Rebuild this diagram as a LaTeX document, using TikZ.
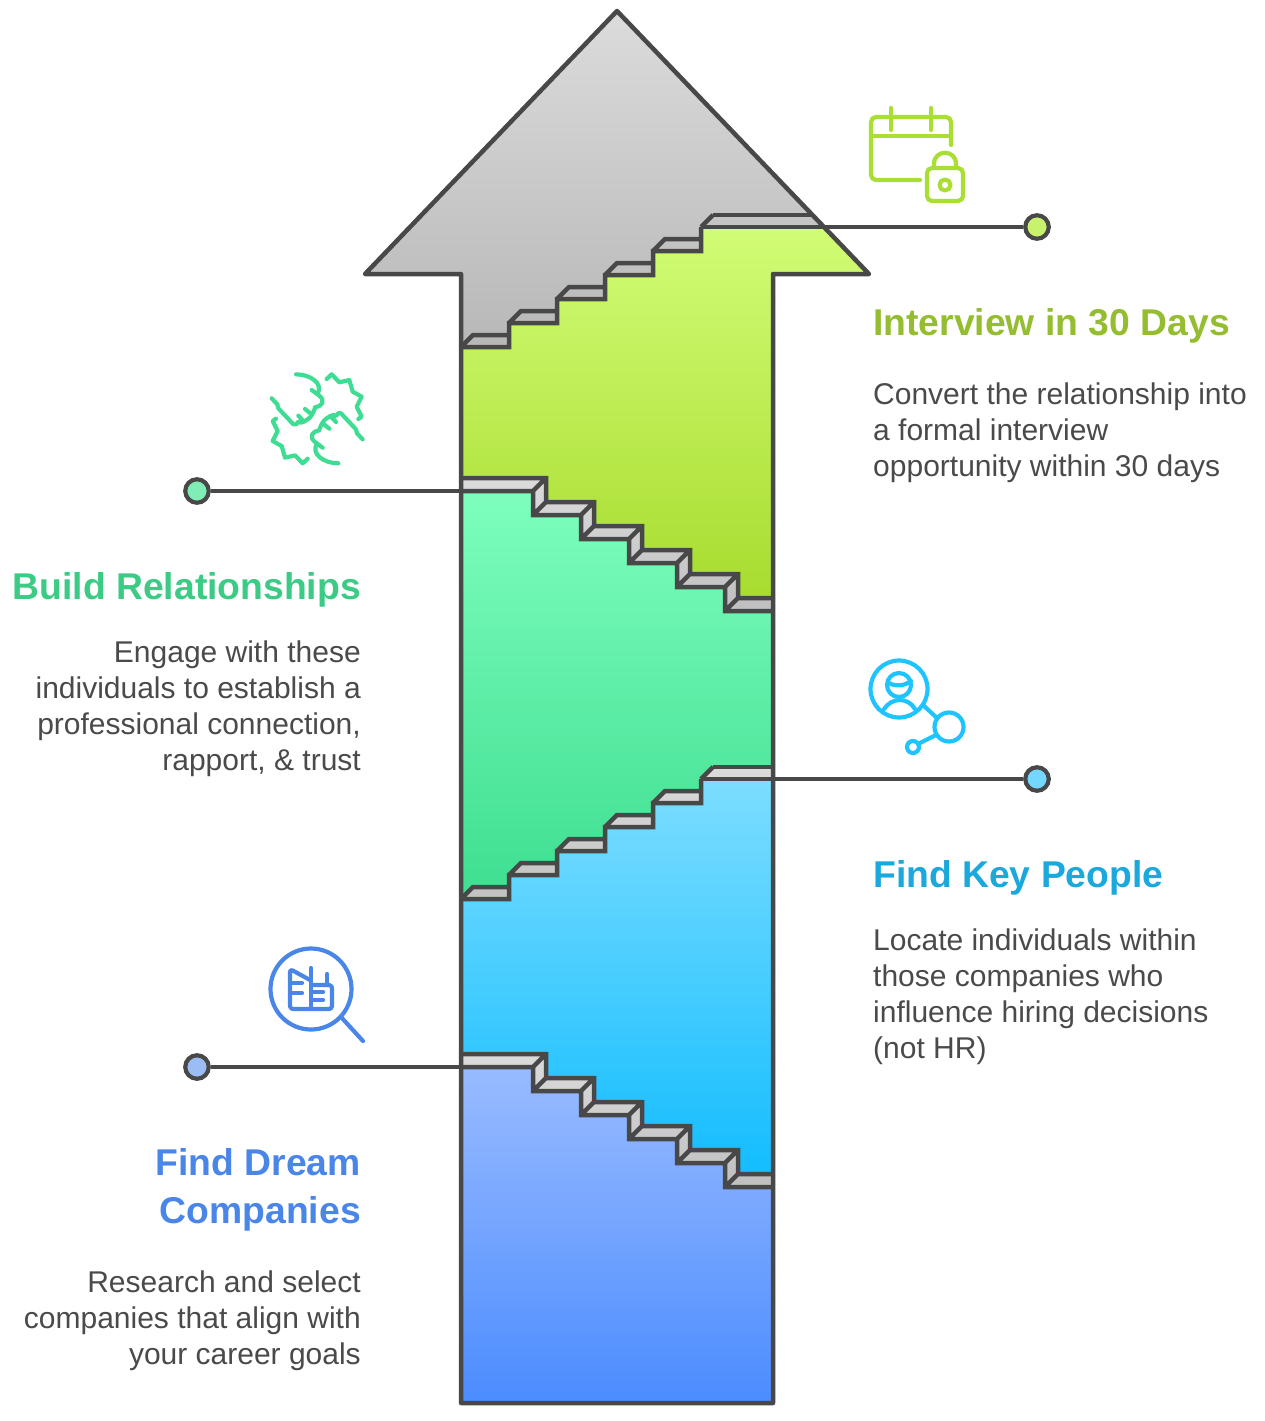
\documentclass[tikz,border=0pt]{standalone}
\usepackage{fontspec}
\setmainfont{Liberation Sans}
\definecolor{ink}{HTML}{484848}
\definecolor{txt}{HTML}{4A4A4A}
\definecolor{limeT}{HTML}{94BD2F}
\definecolor{greenT}{HTML}{3CCB85}
\definecolor{blueT}{HTML}{1BA8DC}
\definecolor{royalT}{HTML}{4A86E8}
\definecolor{limeI}{HTML}{A9DE33}
\definecolor{greenI}{HTML}{3FDD94}
\definecolor{blueI}{HTML}{1FC4FF}
\definecolor{limeD}{HTML}{C8F26C}
\definecolor{greenD}{HTML}{7FEDB5}
\definecolor{blueD}{HTML}{74D7FF}
\definecolor{royalD}{HTML}{9BBCF5}
\tikzset{
  edge/.style={draw=ink,line width=4.5pt,line join=miter,line cap=butt},
  conn/.style={draw=ink,line width=4pt},
  dotnode/.style={circle,draw=ink,line width=4.2pt,minimum size=23.5pt,inner sep=0pt},
  icon/.style={line width=4.2pt,line cap=round,line join=round},
  head/.style={font=\fontsize{37.3}{48}\selectfont\bfseries,inner sep=0pt},
  body/.style={font=\fontsize{30}{36}\selectfont,text=txt,inner sep=0pt},
}
\newcommand{\fistpart}{
  (108,28) .. controls (150,28) and (192,55) .. (172,88)
  (155,75) -- (178,92) .. controls (198,108) and (185,125) .. (165,127)
  (135,132) -- (156,149) .. controls (166,130) and (165,128) .. (165,127)
  (156,149) .. controls (150,160) and (140,165) .. (132,170)
  (115,152) -- (132,170) .. controls (125,176) and (118,172) .. (115,170) .. controls (112,176) and (106,183) .. (100,178) -- (55,130) -- (52,118) -- (35,100)
  (200,42) -- (215,28) -- (238,52) -- (268,45) -- (278,80) -- (305,95) -- (290,125) -- (305,155) -- (295,162)
}
\begin{document}
\begin{tikzpicture}[x=1pt,y=-1pt]
\useasboundingbox (0,0) rectangle (1264,1421);
% connectors and dots
\coordinate (c1) at (701,227);
\coordinate (c2) at (461,491);
\coordinate (c3) at (773,779);
\coordinate (c4) at (461,1067);
\node[dotnode,fill=limeD] (d1) at (1037,227) {};
\node[dotnode,fill=greenD] (d2) at (197,491) {};
\node[dotnode,fill=blueD] (d3) at (1037,779) {};
\node[dotnode,fill=royalD] (d4) at (197,1067) {};
\draw[conn] (c1) -- (d1);
\draw[conn] (c2) -- (d2);
\draw[conn] (c3) -- (d3);
\draw[conn] (c4) -- (d4);
% gradient regions
\shade[top color={rgb,255:red,209;green,252;blue,118},bottom color={rgb,255:red,166;green,219;blue,44}]
  (461,347) -- (509,347) -- (509,323) -- (557,323) -- (557,299) -- (605,299) -- (605,275) -- (653,275) -- (653,251) -- (701,251) -- (701,227) -- (824,227) -- (869,274) -- (773,274) -- (773,611) -- (461,611) -- cycle;
\shade[top color={rgb,255:red,128;green,255;blue,190},bottom color={rgb,255:red,62;green,222;blue,144}]
  (461,478) -- (546,478) -- (546,502) -- (594,502) -- (594,526) -- (642,526) -- (642,550) -- (690,550) -- (690,574) -- (738,574) -- (738,598) -- (773,598) -- (773,899) -- (461,899) -- cycle;
\shade[top color={rgb,255:red,124;green,221;blue,255},bottom color={rgb,255:red,16;green,188;blue,255}]
  (461,899) -- (509,899) -- (509,875) -- (557,875) -- (557,851) -- (605,851) -- (605,827) -- (653,827) -- (653,803) -- (701,803) -- (701,779) -- (773,779) -- (773,1187) -- (461,1187) -- cycle;
\shade[top color={rgb,255:red,156;green,189;blue,255},bottom color={rgb,255:red,75;green,140;blue,255}]
  (461,1054) -- (546,1054) -- (546,1078) -- (594,1078) -- (594,1102) -- (642,1102) -- (642,1126) -- (690,1126) -- (690,1150) -- (738,1150) -- (738,1174) -- (773,1174) -- (773,1403) -- (461,1403) -- cycle;
% gray head above first stairs
\shade[top color=black!14,bottom color=black!28]
  (617,11) -- (824,227) -- (701,227) -- (701,251) -- (653,251) -- (653,275) -- (605,275) -- (605,299) -- (557,299) -- (557,323) -- (509,323) -- (509,347) -- (461,347) -- (461,274) -- (365,274) -- cycle;
% treads and risers: stairs 2 and 4
\foreach \dy in {0,576}{
\shade[yshift=-\dy pt,top color=black!14,bottom color=black!25]
  (461,478) -- (546,478) -- (533,491) -- (461,491) -- cycle
  (546,478) -- (546,502) -- (533,515) -- (533,491) -- cycle
  (546,502) -- (594,502) -- (581,515) -- (533,515) -- cycle
  (594,502) -- (594,526) -- (581,539) -- (581,515) -- cycle
  (594,526) -- (642,526) -- (629,539) -- (581,539) -- cycle
  (642,526) -- (642,550) -- (629,563) -- (629,539) -- cycle
  (642,550) -- (690,550) -- (677,563) -- (629,563) -- cycle
  (690,550) -- (690,574) -- (677,587) -- (677,563) -- cycle
  (690,574) -- (738,574) -- (725,587) -- (677,587) -- cycle
  (738,574) -- (738,598) -- (725,611) -- (725,587) -- cycle
  (738,598) -- (773,598) -- (773,611) -- (725,611) -- cycle;
\draw[edge,yshift=-\dy pt]
  (461,478) -- (546,478) -- (546,502) -- (594,502) -- (594,526) -- (642,526) -- (642,550) -- (690,550) -- (690,574) -- (738,574) -- (738,598) -- (773,598)
  (461,491) -- (533,491) -- (533,515) -- (581,515) -- (581,539) -- (629,539) -- (629,563) -- (677,563) -- (677,587) -- (725,587) -- (725,611) -- (773,611)
  (533,491) -- (546,478) (533,515) -- (546,502) (581,515) -- (594,502) (581,539) -- (594,526) (629,539) -- (642,526) (629,563) -- (642,550) (677,563) -- (690,550) (677,587) -- (690,574) (725,587) -- (738,574) (725,611) -- (738,598);
}
% stairs 3 treads
\shade[top color=black!14,bottom color=black!24]
  (461,899) -- (473,887) -- (509,887) -- (509,899) -- cycle
  (509,875) -- (521,863) -- (557,863) -- (557,875) -- cycle
  (557,851) -- (569,839) -- (605,839) -- (605,851) -- cycle
  (605,827) -- (617,815) -- (653,815) -- (653,827) -- cycle
  (653,803) -- (665,791) -- (701,791) -- (701,803) -- cycle
  (701,779) -- (713,767) -- (773,767) -- (773,779) -- cycle;
\foreach \dy in {0,552}{
\draw[edge,yshift=-\dy pt]
  (461,347) -- (509,347) -- (509,323) -- (557,323) -- (557,299) -- (605,299) -- (605,275) -- (653,275) -- (653,251) -- (701,251) -- (701,227)
  (461,347) -- (473,335) -- (509,335)
  (509,323) -- (521,311) -- (557,311)
  (557,299) -- (569,287) -- (605,287)
  (605,275) -- (617,263) -- (653,263)
  (653,251) -- (665,239) -- (701,239)
  (701,227) -- (713,215);
}
\draw[edge] (713,215) -- (813,215) (701,227) -- (824,227);
\draw[edge] (713,767) -- (773,767) (701,779) -- (773,779);
% arrow outline
\draw[edge,line join=round] (617,11) -- (869,274) -- (773,274) -- (773,1403) -- (461,1403) -- (461,274) -- (365,274) -- cycle;
% calendar icon
\begin{scope}[icon,draw=limeI]
\draw[rounded corners=5pt] (951,145) -- (951,117) -- (871,117) -- (871,180) -- (920,180);
\draw (871,136) -- (951,136) (891,108) -- (891,130) (931,108) -- (931,130);
\draw[rounded corners=5pt] (927,168) rectangle (963,201);
\draw (934,168) -- (934,164) .. controls (934,149) and (956,149) .. (956,164) -- (956,168);
\draw (945,185) circle[radius=5.5pt];
\end{scope}
% hands icon
\begin{scope}[icon,draw=greenI,shift={(260,365)},x=0.3333pt,y=-0.3333pt]
\draw \fistpart;
\end{scope}
\begin{scope}[icon,draw=greenI,shift={(374.33,472.67)},x=-0.3333pt,y=0.3333pt]
\draw \fistpart;
\end{scope}
% person icon
\begin{scope}[icon,draw=blueI]
\draw (899,689) circle[radius=28.5pt];
\draw (899,685) circle[radius=12pt];
\draw (889,683) .. controls (896,687) and (904,686) .. (911,681);
\draw (884,709) .. controls (892,697) and (908,697) .. (915,709);
\draw (923,705) -- (937,718);
\draw (949,727) circle[radius=14.5pt];
\draw (936,735) -- (918,744);
\draw (913,747) circle[radius=6pt];
\end{scope}
% search icon
\begin{scope}[icon,draw=royalT]
\draw (311,989) circle[radius=40.5pt];
\draw (341,1017) -- (363,1041);
\draw[rounded corners=3pt] (310,980) -- (290,969) -- (290,1009) -- (332,1009) -- (332,985) -- (312,985);
\draw (311,968) -- (311,1008) (327,974) -- (327,985);
\draw (290,983) -- (302,983) (290,993) -- (302,993) (312,992) -- (323,992) (312,1000) -- (323,1000);
\end{scope}
% text
\node[head,text=limeT,anchor=base west] (h1) at (873,335) {Interview in 30 Days};
\node[body,anchor=north west,align=left] (b1) at (873,383) {Convert the relationship into\\a formal interview\\opportunity within 30 days};
\node[head,text=greenT,anchor=base east] (h2) at (361,599) {Build Relationships};
\node[body,anchor=north east,align=right] (b2) at (361,641) {Engage with these\\individuals to establish a\\professional connection,\\rapport, \& trust};
\node[head,text=blueT,anchor=base west] (h3) at (873,887) {Find Key People};
\node[body,anchor=north west,align=left] (b3) at (873,929) {Locate individuals within\\those companies who\\influence hiring decisions\\(not HR)};
\node[head,text=royalT,anchor=north east,align=right] (h4) at (361,1148) {Find Dream\\Companies};
\node[body,anchor=north east,align=right] (b4) at (361,1271) {Research and select\\companies that align with\\your career goals};
\end{tikzpicture}
\end{document}
